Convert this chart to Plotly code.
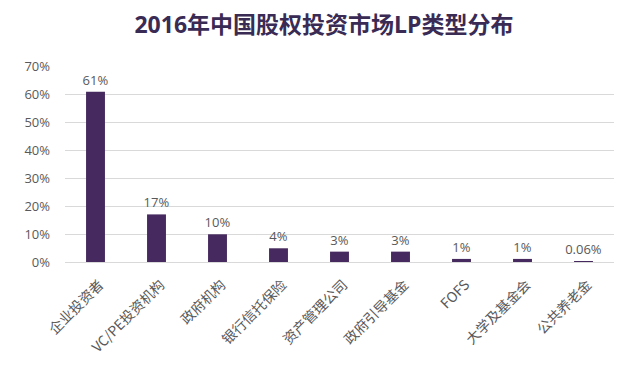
import plotly.graph_objects as go

categories = ["企业投资者", "VC/PE投资机构", "政府机构", "银行信托保险", "资产管理公司",
              "政府引导基金", "FOFS", "大学及基金会", "公共养老金"]
values = [60.8, 17.0, 9.9, 4.9, 3.7, 3.7, 1.1, 1.1, 0.06]
labels = ["61%", "17%", "10%", "4%", "3%", "3%", "1%", "1%", "0.06%"]
tick_vals = [0, 10, 20, 30, 40, 50, 60, 70]
tick_text = ["0%", "10%", "20%", "30%", "40%", "50%", "60%", "70%"]

FONT = "Open Sans, Noto Sans CJK SC, sans-serif"
BAR = "#46295E"

fig = go.Figure(go.Bar(
    x=categories, y=values, text=labels, textposition="outside",
    constraintext="none",
    textfont=dict(size=13, color="#595959", family=FONT),
    marker=dict(color=BAR, line=dict(width=0)), cliponaxis=False,
))

fig.update_layout(
    width=632, height=361,
    margin=dict(l=57, r=26, t=58, b=107),
    paper_bgcolor="white", plot_bgcolor="white",
    bargap=0.69,
    showlegend=False,
    uniformtext=dict(mode=False),
    title=dict(text="<b>2016年中国股权投资市场LP类型分布</b>", x=0.5, xanchor="center",
               y=0.952, yanchor="middle",
               font=dict(size=23, color="#3A2B55", family=FONT)),
    font=dict(family=FONT, color="#595959"),
)
fig.update_xaxes(tickangle=-45, tickfont=dict(size=14, color="#595959", family="Noto Sans CJK SC"),
                 showline=True, linecolor="#D9D9D9", linewidth=1, ticks="", showgrid=False,
                 automargin=False, ticklabelstandoff=8, ticklabelshift=4)
fig.update_yaxes(range=[0, 70], tickvals=tick_vals, ticktext=tick_text,
                 tickfont=dict(size=13, color="#595959", family=FONT),
                 showgrid=True, gridcolor="#D9D9D9", gridwidth=1, zeroline=False,
                 ticklabelstandoff=14, automargin=False)

fig.write_html("out.html")
